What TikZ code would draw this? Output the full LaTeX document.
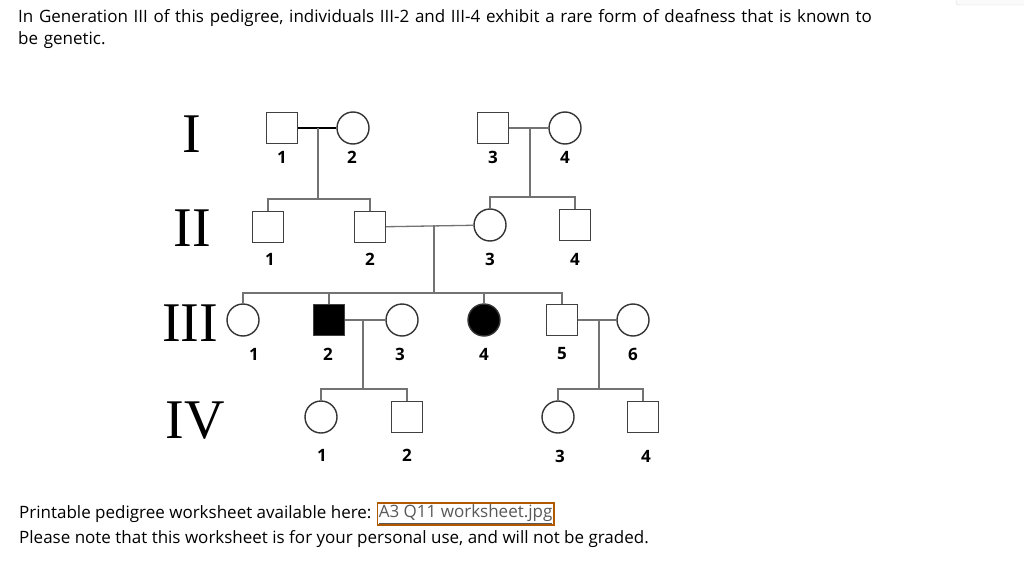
\documentclass[tikz,border=0pt]{standalone}
\usepackage{fontspec}
\setmainfont{Open Sans}
\newfontfamily\romfont{Liberation Serif}
\begin{document}
\begin{tikzpicture}[x=1pt,y=-1pt,
  m/.style={draw=black!75,line width=1.4pt,minimum size=31pt,inner sep=0pt},
  f/.style={circle,draw=black!80,line width=1.4pt,minimum size=32pt,inner sep=0pt},
  aff/.style={fill=black},
  ln/.style={draw=black!55,line width=1.3pt},
  lab/.style={font=\bfseries\fontsize{17}{17}\selectfont},
  gen/.style={font=\romfont\fontsize{56}{56}\selectfont},
  txt/.style={anchor=west,inner sep=0pt,font=\fontsize{17}{22}\selectfont}]
\useasboundingbox (0,0) rectangle (1024,567);
\fill[white] (0,0) rectangle (1024,567);
\draw[black!15,fill=black!2,rounded corners=3pt] (956,-10) rectangle (1030,5);
\node[txt,anchor=north west,text width=870pt] (hdr) at (18,9) {In Generation III of this pedigree, individuals III-2 and III-4 exhibit a rare form of deafness that is known to\\be genetic.};
% generation labels
\node[gen] (gI) at (192,134) {I};
\node[gen] (gII) at (192,228) {II};
\node[gen] (gIII) at (190,323) {III};
\node[gen] (gIV) at (195,421) {IV};
% Gen I
\node[m] (a1) at (282,128) {}; \node[f] (a2) at (353,128) {};
\node[m] (a3) at (493,128) {}; \node[f] (a4) at (565,128) {};
% Gen II
\node[m] (b1) at (268,227) {}; \node[m] (b2) at (370,227) {};
\node[f] (b3) at (490,225) {}; \node[m] (b4) at (575,225) {};
% Gen III
\node[f] (c1) at (243,320) {}; \node[m,aff] (c2) at (329,320) {};
\node[f] (c3) at (402,320) {}; \node[f,aff] (c4) at (484,320) {};
\node[m] (c5) at (562,320) {}; \node[f] (c6) at (633,320) {};
% Gen IV
\node[f] (d1) at (321,417) {}; \node[m] (d2) at (407,417) {};
\node[f] (d3) at (558,417) {}; \node[m] (d4) at (643,417) {};
% labels
\foreach \n/\t/\x/\y in {a1/1/282/157,a2/2/352/157,a3/3/493/157,a4/4/565/157,
  b1/1/270/259,b2/2/370/259,b3/3/490/259,b4/4/575/259,
  c1/1/254/354,c2/2/328/354,c3/3/400/354,c4/4/484/354,c5/5/562/354,c6/6/633/354,
  d1/1/322/455,d2/2/407/455,d3/3/560/456,d4/4/646/456}
  \node[lab] (l\n) at (\x,\y) {\t};
% couples
\coordinate (k1) at (318,128); \coordinate (k1b) at (318,199);
\coordinate (k2) at (530,128); \coordinate (k2b) at (530,197);
\coordinate (k3) at (434,225); \coordinate (k3b) at (434,293);
\coordinate (k4) at (363,320); \coordinate (k4b) at (363,389);
\coordinate (k5) at (599,320); \coordinate (k5b) at (599,389);
\draw[line width=1.4pt] (a1) -- (a2);
\draw[ln] (a3) -- (a4); \draw[ln] (b2) -- (b3);
\draw[ln] (c2) -- (c3); \draw[ln] (c5) -- (c6);
\draw[ln] (k1) -- (k1b); \draw[ln] (k2) -- (k2b); \draw[ln] (k3) -- (k3b);
\draw[ln] (k4) -- (k4b); \draw[ln] (k5) -- (k5b);
% sibships
\draw[ln] (b1.north) |- (k1b) -| (b2.north);
\draw[ln] (b3.north) |- (k2b) -| (b4.north);
\draw[ln] (c1.north) |- (k3b) -| (c5.north);
\draw[ln] (c2.north) -- (c2.north |- k3b);
\draw[ln] (c4.north) -- (c4.north |- k3b);
\draw[ln] (d1.north) |- (k4b) -| (d2.north);
\draw[ln] (d3.north) |- (k5b) -| (d4.north);
% footer
\node[txt] (f1) at (19,514) {Printable pedigree worksheet available here:};
\node[txt,draw=orange!70!black,line width=1.3pt,inner sep=1.5pt,text=black!65,xshift=5pt] (lnk) at (f1.east) {\underline{A3 Q11 worksheet.jpg}};
\node[txt] (f2) at (19,539) {Please note that this worksheet is for your personal use, and will not be graded.};
\end{tikzpicture}
\end{document}
